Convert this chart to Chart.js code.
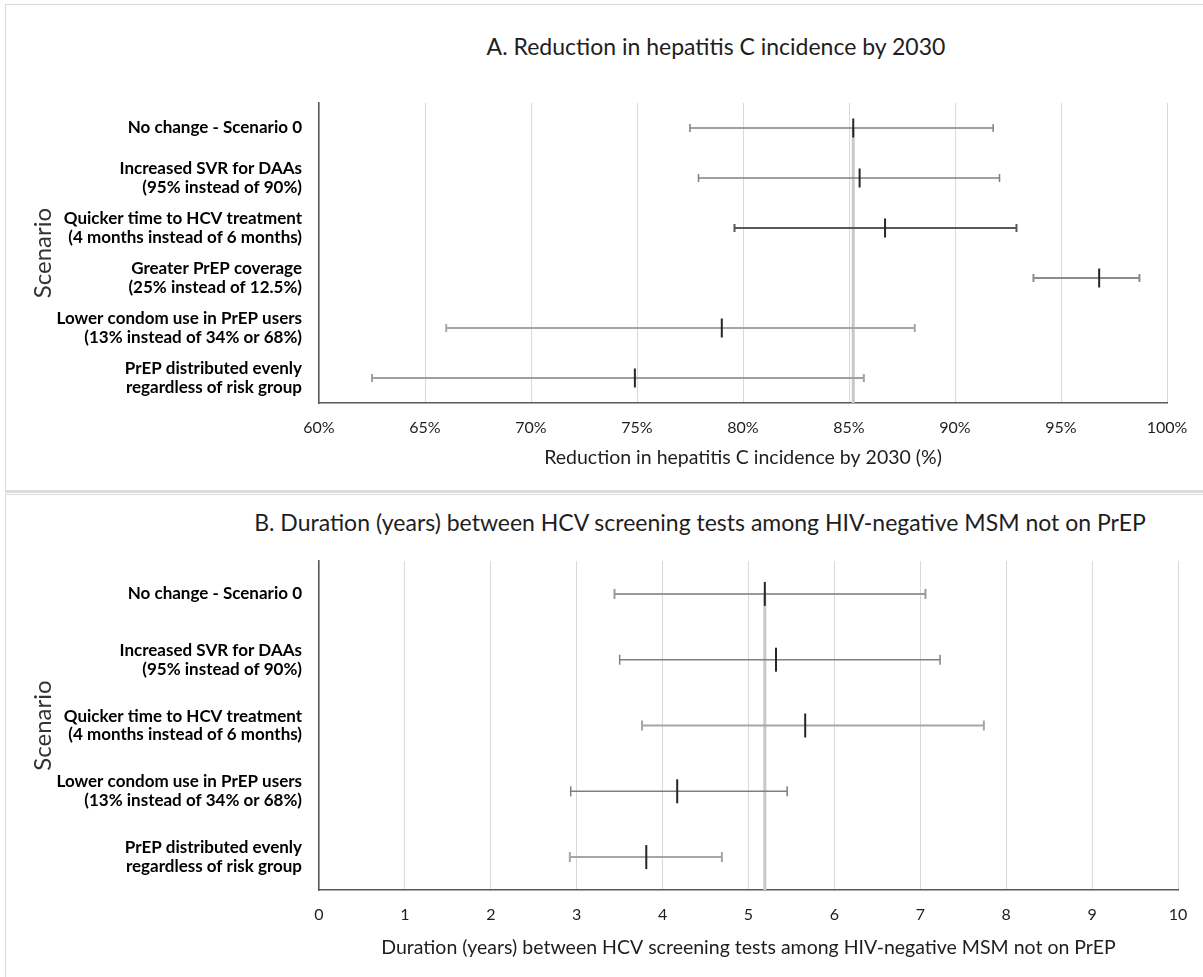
<!DOCTYPE html>
<html>
<head>
<meta charset="utf-8">
<script src="https://cdn.jsdelivr.net/npm/chart.js@4.4.1/dist/chart.umd.min.js"></script>
<style>
  html, body { margin: 0; padding: 0; background: #ffffff; }
  body { width: 1203px; height: 977px; position: relative; overflow: hidden; font-family: Lato, "Open Sans", sans-serif; }
  .frame { position: absolute; left: 5px; width: 1210px; border: 1px solid #d9d9d9; box-sizing: border-box; }
  #frameA { top: 4px; height: 488px; }
  #frameB { top: 494px; height: 500px; }
  #divider { position: absolute; left: 5px; width: 1210px; top: 490px; height: 3px; background: #dcdcdc; }
  .title { position: absolute; white-space: nowrap; font-size: 23px; line-height: 1.2; color: #1e1e1e; transform: translateX(-50%); }
  canvas { position: absolute; left: 0; }
</style>
</head>
<body>
<div class="frame" id="frameA"></div>
<div class="frame" id="frameB"></div>
<div id="divider"></div>
<div class="title" style="left:716px; top:33px;">A. Reduction in hepatitis C incidence by 2030</div>
<div class="title" style="left:700px; top:509px;">B. Duration (years) between HCV screening tests among HIV-negative MSM not on PrEP</div>
<canvas id="chartA" width="1203" height="492" style="top:0px"></canvas>
<canvas id="chartB" width="1203" height="483" style="top:494px"></canvas>
<script>
// Panel A: reduction in hepatitis C incidence by 2030 (%)
const scenariosA = [
  ['No change - Scenario 0'],
  ['Increased SVR for DAAs', '(95% instead of 90%)'],
  ['Quicker time to HCV treatment', '(4 months instead of 6 months)'],
  ['Greater PrEP coverage', '(25% instead of 12.5%)'],
  ['Lower condom use in PrEP users', '(13% instead of 34% or 68%)'],
  ['PrEP distributed evenly', 'regardless of risk group']
];
const lowA  = [77.5, 77.9, 79.6, 93.7, 66.0, 62.5];
const midA  = [85.2, 85.5, 86.7, 96.8, 79.0, 74.9];
const highA = [91.8, 92.1, 92.9, 98.7, 88.1, 85.7];
const tickValuesA = [60, 65, 70, 75, 80, 85, 90, 95, 100];

// Panel B: years between HCV screening tests, HIV-negative MSM not on PrEP
const scenariosB = [
  ['No change - Scenario 0'],
  ['Increased SVR for DAAs', '(95% instead of 90%)'],
  ['Quicker time to HCV treatment', '(4 months instead of 6 months)'],
  ['Lower condom use in PrEP users', '(13% instead of 34% or 68%)'],
  ['PrEP distributed evenly', 'regardless of risk group']
];
const lowB  = [3.44, 3.50, 3.76, 2.93, 2.92];
const midB  = [5.19, 5.32, 5.66, 4.17, 3.81];
const highB = [7.06, 7.23, 7.74, 5.45, 4.69];
const tickValuesB = [0, 1, 2, 3, 4, 5, 6, 7, 8, 9, 10];

// whisker styling per row
const whiskerColorsA = ['#7f7f7f', '#808080', '#595959', '#8c8c8c', '#a6a6a6', '#a0a0a0'];
const whiskerWidthsA = [1.5, 1.5, 2, 2, 2, 2];
const whiskerColorsB = ['#9a9a9a', '#808080', '#a6a6a6', '#7f7f7f', '#a6a6a6'];
const whiskerWidthsB = [2, 1.5, 2, 1.5, 2];

const FONT = 'Lato';
const TEXT = '#1e1e1e';

function buildPanel(canvasId, cfg) {
  const n = cfg.labels.length;
  const datasets = [];

  // reference line at the scenario 0 estimate, down to the axis
  datasets.push({
    data: [{ x: cfg.mid[0], y: 0 }, { x: cfg.mid[0], y: n - 0.5 }],
    showLine: true,
    borderColor: '#c8c8c8',
    borderWidth: 3,
    pointRadius: 0,
    order: 10
  });

  // uncertainty ranges with end caps
  cfg.low.forEach((lo, i) => {
    datasets.push({
      data: [{ x: lo, y: i }, { x: cfg.high[i], y: i }],
      showLine: true,
      borderColor: cfg.colors[i],
      borderWidth: cfg.widths[i],
      pointStyle: 'line',
      rotation: 90,
      pointRadius: cfg.capRadius,
      pointBorderColor: cfg.colors[i],
      pointBorderWidth: cfg.widths[i],
      order: 5
    });
  });

  // central estimates
  datasets.push({
    data: cfg.mid.map((v, i) => ({ x: v, y: i })),
    showLine: false,
    pointStyle: 'line',
    rotation: 90,
    pointRadius: cfg.midRadius,
    pointBorderColor: '#262626',
    pointBorderWidth: 2,
    order: 0
  });

  const canvas = document.getElementById(canvasId);
  return new Chart(canvas, {
    type: 'scatter',
    data: { datasets },
    options: {
      responsive: false,
      animation: false,
      devicePixelRatio: 1,
      events: [],
      layout: { padding: { top: cfg.plotTop, right: canvas.width - cfg.plotRight, left: 0, bottom: 0 } },
      plugins: { legend: { display: false }, tooltip: { enabled: false }, title: { display: false } },
      scales: {
        x: {
          type: 'linear',
          min: cfg.ticks[0],
          max: cfg.ticks[cfg.ticks.length - 1],
          afterBuildTicks: s => { s.ticks = cfg.ticks.map(v => ({ value: v })); },
          afterFit: s => { s.height = canvas.height - cfg.plotBottom; },
          ticks: {
            callback: cfg.tickFormat,
            color: TEXT,
            font: { family: FONT, size: 16 },
            padding: 15,
            maxRotation: 0,
            autoSkip: false
          },
          grid: { color: '#d9d9d9', lineWidth: 1, drawTicks: false },
          border: { display: true, color: '#595959', width: 1.5 },
          title: {
            display: true,
            text: cfg.xTitle,
            color: TEXT,
            font: { family: FONT, size: 19.5 },
            padding: { top: 0, bottom: cfg.xTitlePad }
          }
        },
        y: {
          type: 'linear',
          reverse: true,
          min: -0.5,
          max: n - 0.5,
          afterBuildTicks: s => { s.ticks = cfg.labels.map((_, i) => ({ value: i })); },
          afterFit: s => { s.width = cfg.plotLeft; },
          ticks: {
            callback: v => cfg.labels[v],
            color: '#000000',
            font: { family: FONT, size: 17, weight: 'bold', lineHeight: 1.1 },
            padding: 17,
            autoSkip: false
          },
          grid: { display: false, drawTicks: false },
          border: { display: true, color: '#595959', width: 1.5 },
          title: {
            display: true,
            text: 'Scenario',
            color: '#333333',
            font: { family: FONT, size: 24 },
            padding: { top: 29, bottom: 0 }
          }
        }
      }
    }
  });
}

buildPanel('chartA', {
  labels: scenariosA, low: lowA, mid: midA, high: highA, ticks: tickValuesA,
  colors: whiskerColorsA, widths: whiskerWidthsA,
  tickFormat: v => v + '%',
  xTitle: 'Reduction in hepatitis C incidence by 2030 (%)',
  plotLeft: 319, plotRight: 1167, plotTop: 103, plotBottom: 403,
  xTitlePad: 23, capRadius: 4, midRadius: 9.5
});

buildPanel('chartB', {
  labels: scenariosB, low: lowB, mid: midB, high: highB, ticks: tickValuesB,
  colors: whiskerColorsB, widths: whiskerWidthsB,
  tickFormat: v => String(v),
  xTitle: 'Duration (years) between HCV screening tests among HIV-negative MSM not on PrEP',
  plotLeft: 319, plotRight: 1178, plotTop: 67, plotBottom: 396,
  xTitlePad: 18, capRadius: 5, midRadius: 12
});
</script>
</body>
</html>
